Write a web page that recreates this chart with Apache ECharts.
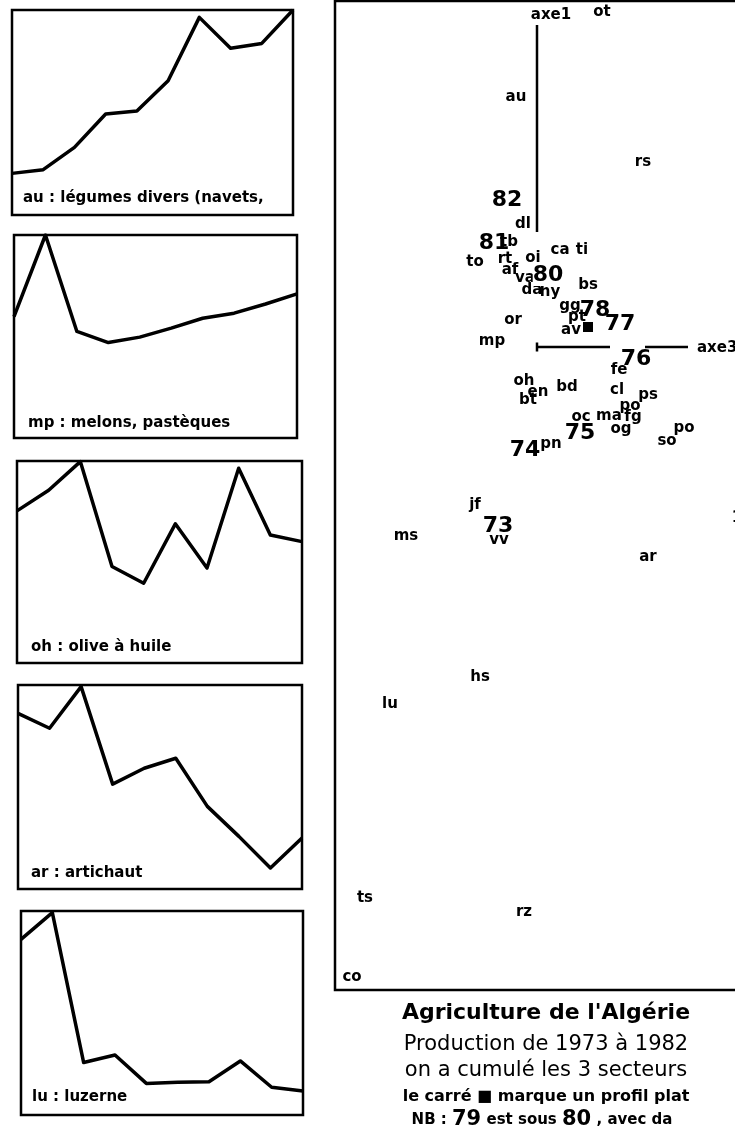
<!DOCTYPE html>
<html><head><meta charset="utf-8">
<script src="https://cdn.jsdelivr.net/npm/echarts/dist/echarts.min.js"></script>
<style>html,body{margin:0;padding:0;background:#fff}#c{width:735px;height:1133px}</style>
</head><body><div id="c"></div>
<script>
// ---- profiles (1973..1982), values as % of each series' maximum ----
const years = ['1973','1974','1975','1976','1977','1978','1979','1980','1981','1982'];
const auValues = [20.3, 22.1, 33.0, 49.3, 50.7, 65.5, 96.4, 81.3, 83.7, 100];
const mpValues = [59.8, 100, 52.5, 47.0, 49.7, 54.1, 59.0, 61.5, 66.0, 71.0];
const ohValues = [75.3, 85.5, 99.7, 47.8, 39.5, 68.9, 47.0, 96.4, 63.4, 60.1];
const arValues = [86.1, 78.8, 99.2, 51.4, 59.2, 64.1, 40.5, 25.8, 10.3, 25.0];
const luValues = [86.1, 99.2, 25.7, 29.4, 15.5, 16.0, 16.3, 26.5, 13.6, 11.8];
const profileTitles = ['au : légumes divers (navets,', 'mp : melons, pastèques', "oh : olive à huile", 'ar : artichaut', 'lu : luzerne'];

// ---- factor map (axe 3 horizontal, axe 1 vertical) ----
const cropCodes = ['ot','au','rs','dl','tb','ca','ti','to','rt','oi','af','va','bs','da','hy','gg','pt','av','or','mp','fe','oh','en','bt','bd','cl','ps','po','ma','fg','oc','og','so','po','pn','jf','vv','ms','ar','hs','lu','ts','rz','co','1'];
const cropX = [0.65,-0.21,1.06,-0.14,-0.28,0.23,0.45,-0.62,-0.32,-0.04,-0.27,-0.12,0.51,-0.05,0.13,0.33,0.40,0.34,-0.24,-0.45,0.82,-0.13,0.01,-0.09,0.30,0.80,1.11,0.93,0.72,0.96,0.44,0.84,1.30,1.47,0.14,-0.62,-0.38,-1.31,1.11,-0.57,-1.47,-1.72,-0.13,-1.85,2.00];
const cropY = [3.35,2.50,1.85,1.23,1.05,0.97,0.97,0.85,0.88,0.89,0.77,0.69,0.62,0.57,0.55,0.41,0.30,0.17,0.27,0.06,-0.23,-0.34,-0.45,-0.53,-0.40,-0.43,-0.48,-0.59,-0.69,-0.70,-0.70,-0.82,-0.94,-0.81,-0.97,-1.58,-1.93,-1.89,-2.10,-3.30,-3.57,-5.51,-5.65,-6.30,-1.71];
const yearLabels = ['82','81','80','78','77','76','75','74','73'];
const yearX = [-0.30,-0.43,0.11,0.58,0.83,0.99,0.43,-0.12,-0.39];
const yearY = [1.47,1.04,0.72,0.37,0.23,-0.12,-0.86,-1.03,-1.79];
const flatProfile = [[0.51, 0.20]];
const axisNames = ['axe1','axe3'];
const axisNameX = [0.14, 1.60];
const axisNameY = [3.32, -0.01];

const profiles = [auValues, mpValues, ohValues, arValues, luValues];
const boxes = [
  {left:12, top:10, width:281, height:205, tx:23, ty:198},
  {left:14, top:235, width:283, height:203, tx:28, ty:423},
  {left:17, top:461, width:285, height:202, tx:31, ty:647},
  {left:18, top:685, width:284, height:204, tx:31, ty:873},
  {left:21, top:911, width:282, height:204, tx:32, ty:1097}
];
const FONT = '"DejaVu Sans", sans-serif';

const grid = [], xAxis = [], yAxis = [], series = [], graphic = [];
boxes.forEach((b, i) => {
  grid.push({left:b.left, top:b.top, width:b.width, height:b.height, show:true, borderColor:'#000', borderWidth:2.5, backgroundColor:'transparent', containLabel:false, outerBoundsMode:'none'});
  xAxis.push({type:'category', data:years, boundaryGap:false, gridIndex:i, show:false});
  yAxis.push({type:'value', min:0, max:100, gridIndex:i, show:false});
  series.push({type:'line', xAxisIndex:i, yAxisIndex:i, data:profiles[i], symbol:'none', lineStyle:{color:'#000', width:3.5, join:'round'}, silent:true});
  graphic.push({type:'text', x:b.tx, y:b.ty, style:{text:profileTitles[i], font:'bold 15px ' + FONT, fill:'#000', verticalAlign:'middle', textVerticalAlign:'middle'}});
});

// factor map grid
grid.push({left:335, top:1, width:420, height:989, show:true, borderColor:'#000', borderWidth:2.5, containLabel:false, outerBoundsMode:'none'});
xAxis.push({type:'value', min:-2.02, max:2.18, gridIndex:5, show:false});
yAxis.push({type:'value', min:-6.43, max:3.46, gridIndex:5, show:false});

const axisSegments = [
  [[0, 3.22], [0, 1.15]],
  [[0, 0], [0.73, 0]],
  [[1.08, 0], [1.51, 0]],
  [[0, 0.045], [0, -0.045]]
];
axisSegments.forEach(seg => series.push({type:'line', xAxisIndex:5, yAxisIndex:5, data:seg, symbol:'none', lineStyle:{color:'#000', width:2.5}, silent:true}));

const labelBase = {show:true, position:'inside', formatter:p => p.name, color:'#000', opacity:1, fontFamily:FONT, fontWeight:'bold', verticalAlign:'middle'};
series.push({
  type:'scatter', xAxisIndex:5, yAxisIndex:5, symbolSize:0, silent:true, itemStyle:{opacity:1},
  data: cropCodes.map((c, i) => ({name:c, value:[cropX[i], cropY[i]]})),
  label:Object.assign({}, labelBase, {fontSize:15, align:'center'})
});
series.push({
  type:'scatter', xAxisIndex:5, yAxisIndex:5, symbolSize:0, silent:true, itemStyle:{opacity:1},
  data: yearLabels.map((c, i) => ({name:c, value:[yearX[i], yearY[i]], label: c === '80' ? {backgroundColor:'#fff'} : undefined})),
  label:Object.assign({}, labelBase, {fontSize:22, align:'center'})
});
series.push({type:'scatter', xAxisIndex:5, yAxisIndex:5, symbol:'rect', symbolSize:10, itemStyle:{color:'#000', opacity:1}, data:flatProfile, silent:true});
series.push({
  type:'scatter', xAxisIndex:5, yAxisIndex:5, symbolSize:0, silent:true, itemStyle:{opacity:1},
  data: axisNames.map((c, i) => ({name:c, value:[axisNameX[i], axisNameY[i]], label:{align: i === 0 ? 'center' : 'left'}})),
  label:Object.assign({}, labelBase, {fontSize:15})
});

// captions
const captions = [
  {y:1013, text:"Agriculture de l'Algérie", font:'bold 22px ' + FONT},
  {y:1045, text:'Production de 1973 à 1982', font:'21px ' + FONT},
  {y:1071, text:'on a cumulé les 3 secteurs', font:'21px ' + FONT},
  {y:1097, text:'le carré ■ marque un profil plat', font:'bold 16px ' + FONT}
];
captions.forEach(c => graphic.push({type:'text', x:546, y:c.y, style:{text:c.text, font:c.font, fill:'#000', align:'center', verticalAlign:'middle', textAlign:'center', textVerticalAlign:'middle'}}));
graphic.push({type:'text', x:542, y:1120, style:{
  text:'NB : {big|79} est sous {big|80} , avec da',
  font:'bold 15px ' + FONT, fill:'#000', align:'center', verticalAlign:'middle', textAlign:'center', textVerticalAlign:'middle',
  rich:{big:{font:'bold 21px ' + FONT, fill:'#000'}}
}});

const chart = echarts.init(document.getElementById('c'), null, {renderer:'canvas'});
chart.setOption({animation:false, backgroundColor:'#fff', grid, xAxis, yAxis, series, graphic});
</script></body></html>
